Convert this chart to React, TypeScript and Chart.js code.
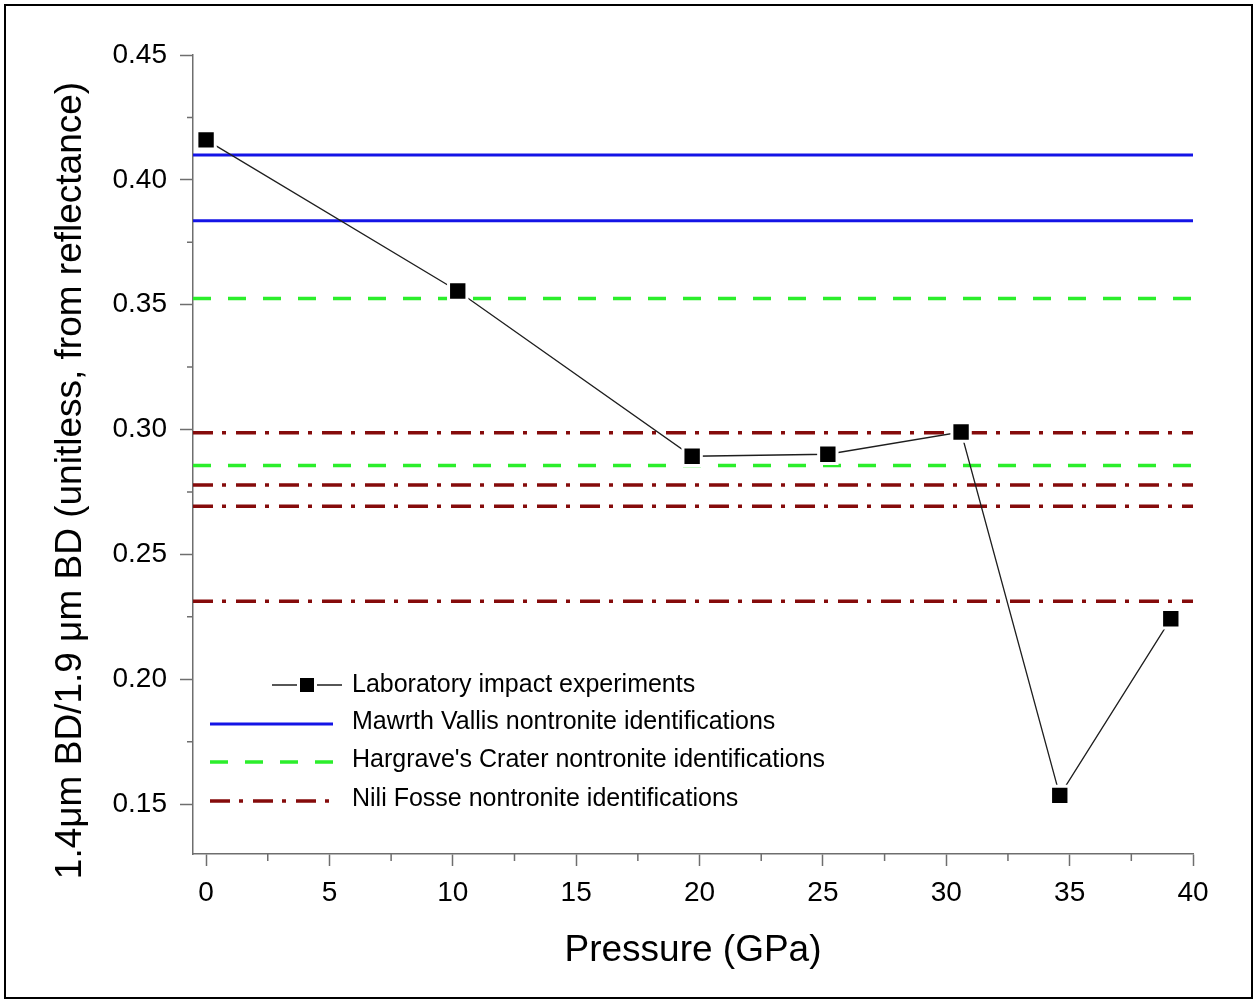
import { useEffect, useRef } from "react";
import { Chart, registerables } from "chart.js";

Chart.register(...registerables);

// Laboratory impact experiments: shock pressure (GPa) vs. band-depth ratio
const pressure = [0, 10.2, 19.7, 25.2, 30.6, 34.6, 39.1];
const bandRatio = [0.416, 0.3555, 0.2893, 0.2901, 0.299, 0.1535, 0.2242];

// Orbital nontronite identifications (constant levels)
const mawrthVallis = [0.4099, 0.3836];
const hargravesCrater = [0.3525, 0.2856];
const niliFosse = [0.2987, 0.2778, 0.2693, 0.2312];

const xTicks = [0, 5, 10, 15, 20, 25, 30, 35, 40];
const xMinorTicks = [2.5, 7.5, 12.5, 17.5, 22.5, 27.5, 32.5, 37.5];
const yTicks = [0.15, 0.2, 0.25, 0.3, 0.35, 0.4, 0.45];
const yMinorTicks = [0.175, 0.225, 0.275, 0.325, 0.375, 0.425];

const X_MIN = -0.53;
const X_MAX = 40;
const Y_MIN = 0.13;
const Y_MAX = 0.45;

const LABEL_LAB = "Laboratory impact experiments";
const LABEL_MV = "Mawrth Vallis nontronite identifications";
const LABEL_HC = "Hargrave's Crater nontronite identifications";
const LABEL_NF = "Nili Fosse nontronite identifications";

const Y_TITLE = "1.4\u03bcm BD/1.9 \u03bcm BD (unitless, from reflectance)";
const X_TITLE = "Pressure (GPa)";

const FONT = "'Liberation Sans', Arial, Helvetica, sans-serif";
const AXIS = "#6e6e6e";
const BLUE = "#1414e6";
const GREEN = "#2bee2b";
const DARK_RED = "#850b0b";

const levelLine = (v: number) => [
  { x: X_MIN, y: v },
  { x: X_MAX, y: v },
];

// Outer frame around the figure
const framePlugin = {
  id: "frame",
  afterDraw(chart: any) {
    const { ctx, width, height } = chart;
    ctx.save();
    ctx.strokeStyle = "#000";
    ctx.lineWidth = 2;
    ctx.strokeRect(5, 5, width - 10, height - 10);
    ctx.restore();
  },
};

// Short minor ticks between labelled ticks
const minorTickPlugin = {
  id: "minorTicks",
  afterDraw(chart: any) {
    const { ctx, scales } = chart;
    const xs = scales.x;
    const ys = scales.y;
    ctx.save();
    ctx.strokeStyle = AXIS;
    ctx.lineWidth = 1.5;
    ctx.beginPath();
    xMinorTicks.forEach((v) => {
      const px = xs.getPixelForValue(v);
      ctx.moveTo(px, ys.bottom);
      ctx.lineTo(px, ys.bottom + 7);
    });
    yMinorTicks.forEach((v) => {
      const py = ys.getPixelForValue(v);
      ctx.moveTo(xs.left - 6, py);
      ctx.lineTo(xs.left, py);
    });
    ctx.stroke();
    ctx.restore();
  },
};

// Vertical axis title
const yTitlePlugin = {
  id: "yTitle",
  afterDraw(chart: any) {
    const { ctx, chartArea } = chart;
    ctx.save();
    ctx.translate(71, (chartArea.top + chartArea.bottom) / 2 + 26);
    ctx.rotate(-Math.PI / 2);
    ctx.font = `37px ${FONT}`;
    ctx.fillStyle = "#000";
    ctx.textAlign = "center";
    ctx.textBaseline = "middle";
    ctx.fillText(Y_TITLE, 0, 0);
    ctx.restore();
  },
};

// Legend drawn inside the plot area, lower left
const insideLegendPlugin = {
  id: "insideLegend",
  afterDraw(chart: any) {
    const { ctx, chartArea } = chart;
    const seen = new Set<string>();
    const entries: any[] = [];
    chart.data.datasets.forEach((ds: any) => {
      if (!seen.has(ds.label)) {
        seen.add(ds.label);
        entries.push(ds);
      }
    });
    const left = chartArea.left;
    const rowY = [685, 722, 760, 799];
    ctx.save();
    entries.forEach((ds, i) => {
      const y = rowY[i];
      if (ds.pointRadius > 0) {
        ctx.strokeStyle = ds.borderColor;
        ctx.lineWidth = ds.borderWidth;
        ctx.setLineDash([]);
        ctx.beginPath();
        ctx.moveTo(left + 79, y);
        ctx.lineTo(left + 149, y);
        ctx.stroke();
        const cx = left + 114;
        ctx.fillStyle = "#fff";
        ctx.fillRect(cx - 10, y - 10, 20, 20);
        ctx.fillStyle = ds.pointBackgroundColor;
        ctx.fillRect(cx - 7, y - 7, 14, 14);
      } else {
        ctx.strokeStyle = ds.borderColor;
        ctx.lineWidth = ds.borderWidth;
        ctx.setLineDash(ds.borderDash || []);
        ctx.beginPath();
        ctx.moveTo(left + 17, y + 2);
        ctx.lineTo(left + 140, y + 2);
        ctx.stroke();
        ctx.setLineDash([]);
      }
      ctx.fillStyle = "#000";
      ctx.font = `25px ${FONT}`;
      ctx.textAlign = "left";
      ctx.textBaseline = "middle";
      ctx.fillText(ds.label, left + 159, y);
    });
    ctx.restore();
  },
};

export default function App() {
  const canvasRef = useRef<HTMLCanvasElement | null>(null);

  useEffect(() => {
    if (!canvasRef.current) return;

    const datasets: any[] = [
      {
        label: LABEL_LAB,
        data: pressure.map((p, i) => ({ x: p, y: bandRatio[i] })),
        borderColor: "#1e1e1e",
        borderWidth: 1.3,
        pointStyle: "rect",
        pointRadius: 13,
        pointBackgroundColor: "#000",
        pointBorderColor: "#fff",
        pointBorderWidth: 3,
        clip: false,
        order: 0,
      },
      ...mawrthVallis.map((v) => ({
        label: LABEL_MV,
        data: levelLine(v),
        borderColor: BLUE,
        borderWidth: 3,
        pointRadius: 0,
        order: 1,
      })),
      ...hargravesCrater.map((v) => ({
        label: LABEL_HC,
        data: levelLine(v),
        borderColor: GREEN,
        borderWidth: 3.5,
        borderDash: [18, 17],
        pointRadius: 0,
        order: 1,
      })),
      ...niliFosse.map((v) => ({
        label: LABEL_NF,
        data: levelLine(v),
        borderColor: DARK_RED,
        borderWidth: 3.5,
        borderDash: [20, 9, 4, 10],
        pointRadius: 0,
        order: 1,
      })),
    ];

    const tickFont = { family: FONT, size: 28 };

    const chart = new Chart(canvasRef.current, {
      type: "line",
      data: { datasets },
      options: {
        responsive: true,
        maintainAspectRatio: false,
        animation: false,
        layout: { padding: { left: 0, top: 55, right: 64, bottom: 0 } },
        plugins: {
          legend: { display: false },
          tooltip: { enabled: false },
          title: { display: false },
        },
        elements: { line: { tension: 0 } },
        scales: {
          x: {
            type: "linear",
            min: X_MIN,
            max: X_MAX,
            afterBuildTicks: (scale: any) => {
              scale.ticks = xTicks.map((v) => ({ value: v }));
            },
            afterFit: (scale: any) => {
              scale.height = 149;
            },
            grid: {
              display: true,
              drawOnChartArea: false,
              drawTicks: true,
              tickLength: 12,
              tickColor: AXIS,
              tickWidth: 1.5,
            },
            border: { display: true, color: AXIS, width: 1.5 },
            ticks: {
              color: "#000",
              font: tickFont,
              padding: 10,
              autoSkip: false,
              maxRotation: 0,
              callback: (v: any) => String(v),
            },
            title: {
              display: true,
              text: X_TITLE,
              color: "#000",
              font: { family: FONT, size: 37 },
              padding: { top: 0, bottom: 30 },
            },
          },
          y: {
            type: "linear",
            min: Y_MIN,
            max: Y_MAX,
            afterBuildTicks: (scale: any) => {
              scale.ticks = yTicks.map((v) => ({ value: v }));
            },
            afterFit: (scale: any) => {
              scale.width = 193;
            },
            grid: {
              display: true,
              drawOnChartArea: false,
              drawTicks: true,
              tickLength: 13,
              tickColor: AXIS,
              tickWidth: 1.5,
            },
            border: { display: true, color: AXIS, width: 1.5 },
            ticks: {
              color: "#000",
              font: tickFont,
              padding: 13,
              callback: (v: any) => Number(v).toFixed(2),
            },
            title: { display: false },
          },
        },
      },
      plugins: [minorTickPlugin, yTitlePlugin, insideLegendPlugin, framePlugin],
    });

    return () => chart.destroy();
  }, []);

  return (
    <div
      style={{
        position: "absolute",
        left: 0,
        top: 0,
        width: 1257,
        height: 1003,
        background: "#fff",
      }}
    >
      <canvas ref={canvasRef} />
    </div>
  );
}
